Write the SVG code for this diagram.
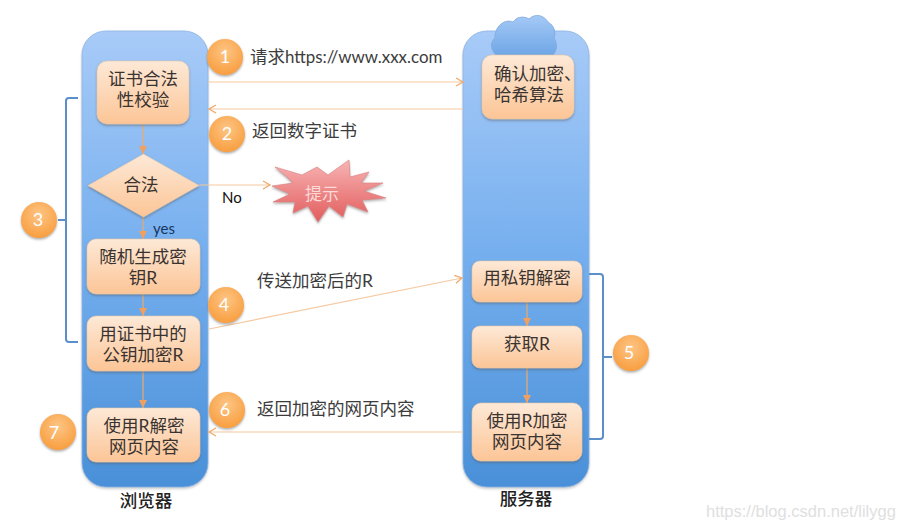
<svg xmlns="http://www.w3.org/2000/svg" width="897" height="529" viewBox="0 0 897 529">
<style>
text{font-family:"Lato","Noto Sans CJK SC",sans-serif}
.t{font-size:17.500px;fill:#3a3330;text-anchor:middle}
.l{font-size:17.500px;fill:#3c3c3c}
.n{font-size:18px;fill:#fff;text-anchor:middle}
.h{font-size:17.500px;font-weight:500;fill:#222;text-anchor:middle}
.box{fill:url(#boxG);stroke:#e6c9ab;stroke-width:.6;filter:url(#sh)}
.lane{fill:url(#laneG);stroke:#8db4e2;stroke-width:.8;filter:url(#shL)}
.c{fill:url(#cirG);filter:url(#sh)}
.a{fill:none;stroke:#f6c8a0;stroke-width:1.2}
.d{fill:none;stroke:#f0a868;stroke-width:1.2}
.b{fill:none;stroke:#5b8fc9;stroke-width:2}
</style>
<defs>
<linearGradient id="laneG" x1="0" y1="0" x2="0" y2="1"><stop offset="0" stop-color="#a8cbf8"/><stop offset=".5" stop-color="#74aeee"/><stop offset="1" stop-color="#4a90d8"/></linearGradient>
<linearGradient id="boxG" x1="0" y1="0" x2="0" y2="1"><stop offset="0" stop-color="#fde9d7"/><stop offset="1" stop-color="#fcc596"/></linearGradient>
<radialGradient id="cirG" cx=".5" cy=".35" r=".7"><stop offset="0" stop-color="#fdc585"/><stop offset="1" stop-color="#f89b3a"/></radialGradient>
<linearGradient id="starG" x1="0" y1="0" x2="0" y2="1"><stop offset="0" stop-color="#f8b4b4"/><stop offset="1" stop-color="#e25c5c"/></linearGradient>
<linearGradient id="cloudG" x1="0" y1="0" x2="0" y2="1"><stop offset="0" stop-color="#a5c9f6"/><stop offset="1" stop-color="#6ea6e6"/></linearGradient>
<filter id="sh" x="-20%" y="-20%" width="140%" height="145%"><feDropShadow dx="0" dy="1.5" stdDeviation="1.2" flood-color="#555" flood-opacity=".5"/></filter>
<filter id="shL" x="-10%" y="-5%" width="120%" height="110%"><feDropShadow dx="0" dy="1.5" stdDeviation="1.2" flood-color="#777" flood-opacity=".4"/></filter>
<marker id="open" markerWidth="10" markerHeight="10" refX="8" refY="5" orient="auto" markerUnits="userSpaceOnUse"><path d="M1 1L8 5L1 9" fill="none" stroke="#f0a868" stroke-width="1.3"/></marker>
<marker id="tri" markerWidth="10" markerHeight="8" refX="9" refY="4" orient="auto" markerUnits="userSpaceOnUse"><path d="M1 0L9 4L1 8Z" fill="#f0a060"/></marker>
</defs>

<g id="lane-browser"><rect class="lane" x="82" y="31" width="126" height="456" rx="24"/></g>
<g id="lane-server"><rect class="lane" x="463" y="31" width="126" height="456" rx="24"/></g>
<g id="cloud"><path d="M497 56C490 50 490 42 495 38C494 28 504 18 513 22C518 15 526 17 529 19C535 13 544 15 548 22C555 26 556 33 554 38C558 44 557 52 552 56Z" fill="url(#cloudG)" stroke="#7fa9dc" stroke-width=".8"/></g>

<g id="connectors">
<path class="a" d="M208 82H463" marker-end="url(#open)"/>
<path class="a" d="M463 109H209" marker-end="url(#open)"/>
<path class="a" d="M199 185H270" marker-end="url(#open)"/>
<path class="a" d="M209 329L462 278" marker-end="url(#open)"/>
<path class="a" d="M463 432H209" marker-end="url(#open)"/>
<path class="d" d="M143 124V154" marker-end="url(#tri)"/>
<path class="d" d="M143 217V239" marker-end="url(#tri)"/>
<path class="d" d="M143 294V316" marker-end="url(#tri)"/>
<path class="d" d="M143 371V408" marker-end="url(#tri)"/>
<path class="d" d="M527 302V326" marker-end="url(#tri)"/>
<path class="d" d="M527 368V403" marker-end="url(#tri)"/>
<path class="b" d="M78 98H69Q66 98 66 101V339Q66 342 69 342H78M58 220H66"/>
<path class="b" d="M589 274H600Q603 274 603 277V436Q603 439 600 439H589M603 357H612"/>
</g>

<g id="node-verify"><rect class="box" x="97" y="61" width="92" height="63" rx="10"/><text class="t"><tspan x="143" y="85">证书合法</tspan><tspan x="143" y="106">性校验</tspan></text></g>
<g id="node-legal"><path class="box" d="M143.500 154L199 185.500L143.500 217L88 185.500Z"/><text class="t" x="141" y="191">合法</text></g>
<g id="node-genkey"><rect class="box" x="87" y="239" width="113" height="55" rx="9"/><text class="t"><tspan x="143" y="263">随机生成密</tspan><tspan x="143" y="284">钥R</tspan></text></g>
<g id="node-encrypt"><rect class="box" x="87" y="316" width="113" height="55" rx="9"/><text class="t"><tspan x="143" y="340">用证书中的</tspan><tspan x="143" y="361">公钥加密R</tspan></text></g>
<g id="node-decrypt-page"><rect class="box" x="87" y="408" width="113" height="54" rx="9"/><text class="t"><tspan x="144" y="432">使用R解密</tspan><tspan x="144" y="453">网页内容</tspan></text></g>
<g id="node-confirm"><rect class="box" x="482" y="55" width="92" height="64" rx="10"/><text class="t" style="text-anchor:start"><tspan x="494" y="80">确认加密、</tspan><tspan x="494" y="101">哈希算法</tspan></text></g>
<g id="node-private"><rect class="box" x="472" y="261" width="110" height="41" rx="8"/><text class="t" x="527" y="284">用私钥解密</text></g>
<g id="node-getr"><rect class="box" x="472" y="326" width="110" height="42" rx="8"/><text class="t" x="527" y="350">获取R</text></g>
<g id="node-encrypt-page"><rect class="box" x="472" y="403" width="110" height="58" rx="9"/><text class="t"><tspan x="527" y="427">使用R加密</tspan><tspan x="527" y="448">网页内容</tspan></text></g>

<g id="node-star"><path d="M275 167L302 175L317 167L328 175L349 160L350 177L369 172L361 183L383 183L364 191L386 198L362 200L368 212L347 204L343 217L329 206L318 222L308 206L293 213L295 202L273 202L290 194L272 186L293 183L287 177Z" fill="url(#starG)" stroke="#d98080" stroke-width=".6" filter="url(#sh)"/><text x="322" y="200" style="font-size:17px;fill:#fbd9d9;text-anchor:middle">提示</text></g>

<g id="step-1"><circle class="c" cx="225" cy="57" r="18"/><text class="n" x="225" y="63">1</text></g>
<g id="step-2"><circle class="c" cx="227" cy="134" r="18"/><text class="n" x="227" y="140">2</text></g>
<g id="step-3"><circle class="c" cx="39" cy="220" r="18"/><text class="n" x="38" y="226">3</text></g>
<g id="step-4"><circle class="c" cx="226" cy="305" r="18"/><text class="n" x="224" y="311">4</text></g>
<g id="step-5"><circle class="c" cx="631" cy="353" r="18"/><text class="n" x="629" y="359">5</text></g>
<g id="step-6"><circle class="c" cx="227" cy="410" r="18"/><text class="n" x="225" y="416">6</text></g>
<g id="step-7"><circle class="c" cx="58" cy="432" r="18"/><text class="n" x="54" y="439">7</text></g>

<g id="labels">
<text class="l" x="250" y="63">请求<tspan style="font-size:16.900px">https://www.xxx.com</tspan></text>
<text class="l" x="252" y="137">返回数字证书</text>
<text class="l" x="257" y="287">传送加密后的R</text>
<text class="l" x="257" y="415">返回加密的网页内容</text>
<text x="222" y="203" style="font-size:15px;fill:#111">No</text>
<text x="153" y="234" style="font-size:15px;fill:#17375e">yes</text>
<text class="h" x="146" y="507">浏览器</text>
<text class="h" x="526" y="505">服务器</text>
<text x="706" y="517" style="font-family:'Liberation Sans',sans-serif;font-size:16.500px;fill:#e0e0e0">https://blog.csdn.net/lilygg</text>
</g>
</svg>
